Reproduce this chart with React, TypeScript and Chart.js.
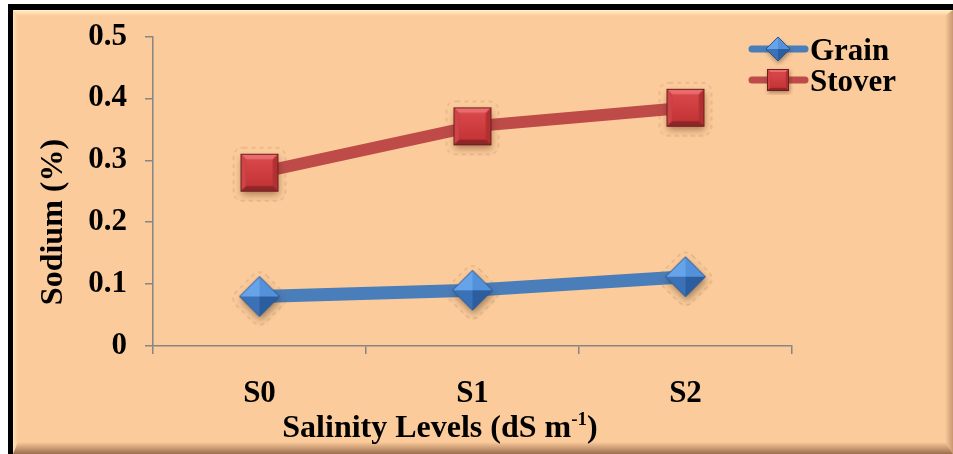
import React, { useEffect, useRef } from "react";
import Chart from "chart.js/auto";

// ---- data ----
const categories = ["S0", "S1", "S2"];
const seriesNames = ["Grain", "Stover"];
const grainValues = [0.08, 0.09, 0.112];
const stoverValues = [0.28, 0.355, 0.385];
const yTickValues = [0, 0.1, 0.2, 0.3, 0.4, 0.5];
const yTickLabels = ["0", "0.1", "0.2", "0.3", "0.4", "0.5"];
const yAxisTitle = "Sodium (%)";
const xAxisTitleMain = "Salinity Levels (dS m";
const xAxisTitleSup = "-1";
const xAxisTitleEnd = ")";

// ---- styling ----
const FONT = '"Liberation Serif", "Times New Roman", serif';
const PEACH = "#FBCB9B";
const AXIS_GREY = "#868686";
const BLUE_LINE = "#4A7EBB";
const RED_LINE = "#BE4B48";

type Pt = [number, number];

function poly(g: CanvasRenderingContext2D, pts: Pt[], fill: string | CanvasGradient) {
  g.beginPath();
  g.moveTo(pts[0][0], pts[0][1]);
  for (let i = 1; i < pts.length; i++) g.lineTo(pts[i][0], pts[i][1]);
  g.closePath();
  g.fillStyle = fill;
  g.fill();
}

function roundRectPath(g: CanvasRenderingContext2D, x: number, y: number, w: number, h: number, r: number) {
  g.beginPath();
  g.moveTo(x + r, y);
  g.lineTo(x + w - r, y);
  g.quadraticCurveTo(x + w, y, x + w, y + r);
  g.lineTo(x + w, y + h - r);
  g.quadraticCurveTo(x + w, y + h, x + w - r, y + h);
  g.lineTo(x + r, y + h);
  g.quadraticCurveTo(x, y + h, x, y + h - r);
  g.lineTo(x, y + r);
  g.quadraticCurveTo(x, y, x + r, y);
  g.closePath();
}

// Bevelled red square marker
function makeSquareMarker(size: number, pad: number, halo: boolean): HTMLCanvasElement {
  const c = document.createElement("canvas");
  const S = size + pad * 2;
  c.width = S;
  c.height = S;
  const g = c.getContext("2d")!;
  const x0 = pad, y0 = pad, x1 = pad + size, y1 = pad + size;
  if (halo) {
    g.save();
    g.strokeStyle = "rgba(150,105,70,0.35)";
    g.lineWidth = 1;
    g.setLineDash([4, 4]);
    roundRectPath(g, x0 - 7, y0 - 6, size + 14, size + 15, 10);
    g.stroke();
    g.restore();
  }
  g.save();
  g.shadowColor = "rgba(90,40,10,0.45)";
  g.shadowBlur = size * 0.18;
  g.shadowOffsetX = size * 0.03;
  g.shadowOffsetY = size * 0.1;
  g.fillStyle = "#B32F30";
  g.fillRect(x0, y0, size, size);
  g.restore();
  const b = size * 0.15;
  poly(g, [[x0, y0], [x1, y0], [x1 - b, y0 + b], [x0 + b, y0 + b]], "#EA6B6C");
  poly(g, [[x0, y0], [x0 + b, y0 + b], [x0 + b, y1 - b], [x0, y1]], "#CF4447");
  poly(g, [[x1, y0], [x1, y1], [x1 - b, y1 - b], [x1 - b, y0 + b]], "#B33032");
  poly(g, [[x0, y1], [x0 + b, y1 - b], [x1 - b, y1 - b], [x1, y1]], "#8E2527");
  const grad = g.createLinearGradient(0, y0 + b, 0, y1 - b);
  grad.addColorStop(0, "#D9474A");
  grad.addColorStop(1, "#C43537");
  g.fillStyle = grad;
  g.fillRect(x0 + b, y0 + b, size - 2 * b, size - 2 * b);
  g.strokeStyle = "#6B1E1F";
  g.lineWidth = 1;
  g.strokeRect(x0 + 0.5, y0 + 0.5, size - 1, size - 1);
  return c;
}

// Pyramid-faceted blue diamond marker
function makeDiamondMarker(size: number, pad: number, halo: boolean): HTMLCanvasElement {
  const c = document.createElement("canvas");
  const S = size + pad * 2;
  c.width = S;
  c.height = S;
  const g = c.getContext("2d")!;
  const cx = S / 2, cy = S / 2, r = size / 2;
  const T: Pt = [cx, cy - r], R: Pt = [cx + r, cy], B: Pt = [cx, cy + r], L: Pt = [cx - r, cy], C: Pt = [cx, cy];
  if (halo) {
    g.save();
    g.strokeStyle = "rgba(150,105,70,0.35)";
    g.lineWidth = 1;
    g.setLineDash([4, 4]);
    g.translate(cx, cy + 2);
    g.rotate(Math.PI / 4);
    const h = r / Math.SQRT2 + 7;
    roundRectPath(g, -h, -h, 2 * h, 2 * h, 10);
    g.stroke();
    g.restore();
  }
  g.save();
  g.shadowColor = "rgba(60,40,20,0.45)";
  g.shadowBlur = size * 0.18;
  g.shadowOffsetX = size * 0.03;
  g.shadowOffsetY = size * 0.1;
  poly(g, [T, R, B, L], "#3C75BA");
  g.restore();
  poly(g, [L, T, C], "#66A3E8");
  poly(g, [T, R, C], "#5392DA");
  poly(g, [R, B, C], "#2C5E9F");
  poly(g, [B, L, C], "#3B72B7");
  g.beginPath();
  g.moveTo(T[0], T[1]);
  g.lineTo(R[0], R[1]);
  g.lineTo(B[0], B[1]);
  g.lineTo(L[0], L[1]);
  g.closePath();
  g.strokeStyle = "#28558F";
  g.lineWidth = 1;
  g.stroke();
  return c;
}

// Framed, bevelled peach background
const backgroundPlugin = {
  id: "peachFrame",
  beforeDraw(chart: any) {
    const g: CanvasRenderingContext2D = chart.ctx;
    const W = chart.width, H = chart.height;
    g.save();
    g.fillStyle = "#FFFFFF";
    g.fillRect(0, 0, W, H);
    g.fillStyle = "#000000";
    g.fillRect(8, 4, W - 8, H - 4);
    const px0 = 13, py0 = 10, px1 = W, py1 = H;
    g.fillStyle = PEACH;
    g.fillRect(px0, py0, px1 - px0, py1 - py0);
    const bt = 6, bb = 12, bl = 5, br = 8;
    // top bevel
    let gr = g.createLinearGradient(0, py0, 0, py0 + bt);
    gr.addColorStop(0, "#FFF2C8");
    gr.addColorStop(1, PEACH);
    poly(g, [[px0, py0], [px1, py0], [px1 - br, py0 + bt], [px0 + bl, py0 + bt]], gr);
    // left bevel
    gr = g.createLinearGradient(px0, 0, px0 + bl, 0);
    gr.addColorStop(0, "#FFE2B6");
    gr.addColorStop(1, PEACH);
    poly(g, [[px0, py0], [px0 + bl, py0 + bt], [px0 + bl, py1 - bb], [px0, py1]], gr);
    // right bevel
    gr = g.createLinearGradient(px1 - br, 0, px1, 0);
    gr.addColorStop(0, PEACH);
    gr.addColorStop(1, "#C99670");
    poly(g, [[px1, py0], [px1, py1], [px1 - br, py1 - bb], [px1 - br, py0 + bt]], gr);
    // bottom bevel
    gr = g.createLinearGradient(0, py1 - bb, 0, py1);
    gr.addColorStop(0, PEACH);
    gr.addColorStop(1, "#9C6E4E");
    poly(g, [[px0, py1], [px0 + bl, py1 - bb], [px1 - br, py1 - bb], [px1, py1]], gr);
    g.restore();
  },
};

// Axis titles and legend
function makeAnnotationPlugin(legendDiamond: HTMLCanvasElement, legendSquare: HTMLCanvasElement) {
  return {
    id: "titlesAndLegend",
    afterDraw(chart: any) {
      const g: CanvasRenderingContext2D = chart.ctx;
      g.save();
      g.fillStyle = "#000";
      g.textBaseline = "alphabetic";

      // y-axis title, rotated
      g.save();
      g.translate(62, 222);
      g.rotate(-Math.PI / 2);
      g.font = `bold 32px ${FONT}`;
      g.textAlign = "center";
      g.fillText(yAxisTitle, 0, 0);
      g.restore();

      // x-axis title with superscript
      g.font = `bold 32px ${FONT}`;
      const w1 = g.measureText(xAxisTitleMain).width;
      const w3 = g.measureText(xAxisTitleEnd).width;
      g.font = `bold 19px ${FONT}`;
      const w2 = g.measureText(xAxisTitleSup).width;
      const total = w1 + w2 + w3;
      let x = 440 - total / 2;
      const base = 437;
      g.textAlign = "left";
      g.font = `bold 32px ${FONT}`;
      g.fillText(xAxisTitleMain, x, base);
      x += w1;
      g.font = `bold 19px ${FONT}`;
      g.fillText(xAxisTitleSup, x, base - 12);
      x += w2;
      g.font = `bold 32px ${FONT}`;
      g.fillText(xAxisTitleEnd, x, base);

      // legend
      const legendItems = [
        { name: seriesNames[0], color: BLUE_LINE, marker: legendDiamond, y: 49, base: 60 },
        { name: seriesNames[1], color: RED_LINE, marker: legendSquare, y: 80, base: 91 },
      ];
      for (const it of legendItems) {
        g.strokeStyle = it.color;
        g.lineWidth = 7;
        g.lineCap = "round";
        g.beginPath();
        g.moveTo(752, it.y);
        g.lineTo(805, it.y);
        g.stroke();
        const m = it.marker;
        g.drawImage(m, 778 - m.width / 2, it.y - m.height / 2);
        g.fillStyle = "#000";
        g.font = `bold 31px ${FONT}`;
        g.textAlign = "left";
        g.fillText(it.name, 810, it.base);
      }
      g.restore();
    },
  };
}

export default function App() {
  const ref = useRef<HTMLCanvasElement | null>(null);

  useEffect(() => {
    if (!ref.current) return;
    const diamond = makeDiamondMarker(40, 14, true);
    const square = makeSquareMarker(38, 14, true);
    const legendDiamond = makeDiamondMarker(24, 4, false);
    const legendSquare = makeSquareMarker(22, 4, false);

    const chart = new Chart(ref.current, {
      type: "line",
      data: {
        labels: categories,
        datasets: [
          {
            label: seriesNames[0],
            data: grainValues,
            borderColor: BLUE_LINE,
            borderWidth: 13,
            pointStyle: diamond as any,
            pointRadius: 20,
            tension: 0,
          },
          {
            label: seriesNames[1],
            data: stoverValues,
            borderColor: RED_LINE,
            borderWidth: 12,
            pointStyle: square as any,
            pointRadius: 20,
            tension: 0,
          },
        ],
      },
      options: {
        animation: false,
        responsive: false,
        devicePixelRatio: 1,
        layout: { padding: { top: 33, right: 161, left: 0, bottom: 0 } },
        plugins: {
          legend: { display: false },
          tooltip: { enabled: false },
        },
        scales: {
          x: {
            offset: true,
            grid: {
              offset: true,
              drawOnChartArea: false,
              drawTicks: true,
              tickLength: 8,
              color: AXIS_GREY,
              lineWidth: 1.5,
            },
            border: { color: AXIS_GREY, width: 1.5 },
            ticks: {
              color: "#000",
              font: { family: FONT, size: 31, weight: "bold" },
              padding: 21,
            },
            afterFit: (s: any) => {
              s.height = 108;
            },
          },
          y: {
            min: yTickValues[0],
            max: yTickValues[yTickValues.length - 1],
            afterBuildTicks: (s: any) => {
              s.ticks = yTickValues.map((v) => ({ value: v }));
            },
            ticks: {
              color: "#000",
              font: { family: FONT, size: 31, weight: "bold" },
              padding: 18,
              callback: (_v: any, i: number) => yTickLabels[i],
            },
            grid: {
              drawOnChartArea: false,
              drawTicks: true,
              tickLength: 8,
              color: AXIS_GREY,
              lineWidth: 1.5,
            },
            border: { color: AXIS_GREY, width: 1.5 },
            afterFit: (s: any) => {
              s.width = 153;
            },
          },
        },
      },
      plugins: [backgroundPlugin, makeAnnotationPlugin(legendDiamond, legendSquare)],
    } as any);

    return () => chart.destroy();
  }, []);

  return (
    <div style={{ position: "fixed", left: 0, top: 0, width: 953, height: 454 }}>
      <canvas ref={ref} width={953} height={454} style={{ display: "block" }} />
    </div>
  );
}
